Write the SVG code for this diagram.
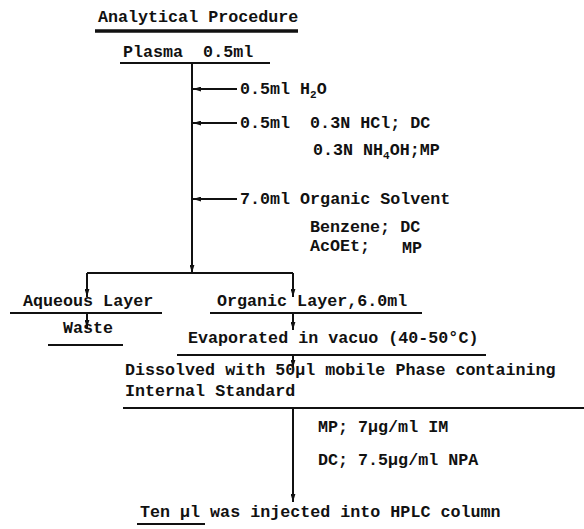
<svg xmlns="http://www.w3.org/2000/svg" width="584" height="529" viewBox="0 0 584 529">
<style>
.t{font-family:"Liberation Mono","DejaVu Sans Mono",monospace;font-weight:bold;font-size:16.7px;fill:#111;white-space:pre}
.s{font-size:11px}
.u{stroke:#111;stroke-width:2;fill:none}
.c{stroke:#111;stroke-width:2;fill:none}
</style>
<defs>
<marker id="ah" viewBox="0 0 10 6" refX="10" refY="3" markerWidth="8" markerHeight="5" orient="auto" markerUnits="userSpaceOnUse">
<path d="M0,0 L10,3 L0,6 z" fill="#111"/>
</marker>
</defs>
<rect width="584" height="529" fill="#fff"/>
<g id="title">
<text class="t" x="98" y="22">Analytical Procedure</text>
<line x1="95" y1="31" x2="298" y2="31" stroke="#111" stroke-width="3.5"/>
</g>
<g id="plasma">
<text class="t" x="123" y="57" xml:space="preserve">Plasma  0.5ml</text>
<line class="u" x1="120" y1="63" x2="270" y2="63"/>
</g>
<g id="add1">
<text class="t" x="240" y="94">0.5ml H<tspan class="s" dy="4">2</tspan><tspan dy="-4">O</tspan></text>
</g>
<g id="add2">
<text class="t" x="240" y="128" xml:space="preserve">0.5ml  0.3N HCl; DC</text>
<text class="t" x="313" y="155">0.3N NH<tspan class="s" dy="4">4</tspan><tspan dy="-4">OH;MP</tspan></text>
</g>
<g id="add3">
<text class="t" x="240" y="204">7.0ml Organic Solvent</text>
<text class="t" x="310" y="232">Benzene; DC</text>
<text class="t" x="310" y="251">AcOEt;</text>
<text class="t" x="402" y="253">MP</text>
</g>
<g id="aqueous">
<text class="t" x="23" y="306">Aqueous Layer</text>
<line class="u" x1="10" y1="313" x2="162" y2="313"/>
</g>
<g id="organic">
<text class="t" x="217" y="306">Organic Layer,6.0ml</text>
<line class="u" x1="210" y1="313" x2="422" y2="313"/>
</g>
<g id="waste">
<text class="t" x="63" y="333">Waste</text>
<line class="u" x1="48" y1="345" x2="123" y2="345"/>
</g>
<g id="evaporated">
<text class="t" x="188" y="343">Evaporated in vacuo (40-50°C)</text>
<line class="u" x1="177" y1="355" x2="486" y2="355"/>
</g>
<g id="dissolved">
<text class="t" x="125" y="375">Dissolved with 50µl mobile Phase containing</text>
<text class="t" x="125" y="396">Internal Standard</text>
<line class="u" x1="123" y1="408" x2="584" y2="408"/>
</g>
<g id="standards">
<text class="t" x="318" y="432">MP; 7µg/ml IM</text>
<text class="t" x="318" y="465">DC; 7.5µg/ml NPA</text>
</g>
<g id="injected">
<text class="t" x="140" y="517">Ten µl was injected into HPLC column</text>
<line class="u" x1="137" y1="524" x2="205" y2="524"/>
</g>
<g id="connectors">
<line class="c" x1="192" y1="63" x2="192" y2="273" marker-end="url(#ah)"/>
<line class="c" x1="237" y1="89" x2="193" y2="89" marker-end="url(#ah)"/>
<line class="c" x1="237" y1="123" x2="193" y2="123" marker-end="url(#ah)"/>
<line class="c" x1="237" y1="199" x2="193" y2="199" marker-end="url(#ah)"/>
<polyline class="c" points="87,273 293,273"/>
<line class="c" x1="87" y1="273" x2="87" y2="297" marker-end="url(#ah)"/>
<line class="c" x1="293" y1="273" x2="293" y2="297" marker-end="url(#ah)"/>
<line class="c" x1="87" y1="313" x2="87" y2="328" marker-end="url(#ah)"/>
<line class="c" x1="293" y1="313" x2="293" y2="330" marker-end="url(#ah)"/>
<line class="c" x1="293" y1="355" x2="293" y2="368" marker-end="url(#ah)"/>
<line class="c" x1="293" y1="408" x2="293" y2="502" marker-end="url(#ah)"/>
</g>
</svg>
